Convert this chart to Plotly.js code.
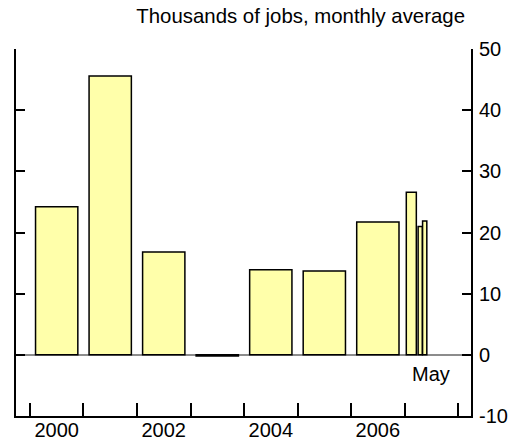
<!DOCTYPE html>
<html>
<head>
<meta charset="utf-8">
<script src="https://cdn.plot.ly/plotly-3.0.1.min.js"></script>
<style>html,body{margin:0;padding:0;background:#fff;}#chart{width:521px;height:444px;}</style>
</head>
<body>
<div id="chart"></div>
<script>
// Annual averages (thousands of jobs, monthly average)
const years = [2000, 2001, 2002, 2003, 2004, 2005, 2006];
const annualAvg = [24.2, 45.6, 16.8, -0.2, 13.9, 13.7, 21.7];
// Most recent periods of 2007: Q1 average, then April and May
const recentYear = 2007;
const recentLabels = ['Q1', 'Apr', 'May'];
const recentStartMonth = [0, 3, 4];
const recentMonthCount = [3, 1, 1];
const recentAvg = [26.6, 21.0, 21.9];
// Axis labels
const yearTickLabels = ['2000', '2002', '2004', '2006'];
const yTickValues = [-10, 0, 10, 20, 30, 40, 50];
const yTickLabels = ['-10', '0', '10', '20', '30', '40', '50'];
const lastMonthLabel = 'May';
const titleText = 'Thousands of jobs, monthly average';

const FONT = 'Liberation Sans, Arial, Helvetica, sans-serif';
const barFill = '#ffffaa';

const annualTrace = {
  type: 'bar',
  x: years.map(y => y + 0.5),
  y: annualAvg,
  width: years.map(() => 0.79),
  marker: {color: barFill, line: {color: '#000', width: 1.5}},
  hoverinfo: 'skip',
  showlegend: false
};
const recentTrace = {
  type: 'bar',
  x: recentStartMonth.map((s, i) => recentYear + (s + recentMonthCount[i] / 2) / 12),
  y: recentAvg,
  width: recentMonthCount.map(n => n / 12 * (n > 1 ? 0.75 : 0.95)),
  text: recentLabels,
  textposition: 'none',
  marker: {color: barFill, line: {color: '#000', width: 1.5}},
  hoverinfo: 'skip',
  showlegend: false
};

const xRange = [1999.74, 2008.24];
const boundaryTicks = [];
for (let y = 2000; y <= 2008; y++) boundaryTicks.push(y);

const layout = {
  width: 521, height: 444,
  margin: {l: 16, r: 50, t: 49, b: 28, pad: 0},
  paper_bgcolor: '#fff', plot_bgcolor: '#fff',
  font: {family: FONT, size: 20, color: '#000'},
  bargap: 0,
  barmode: 'overlay',
  title: {
    text: titleText,
    font: {family: FONT, size: 20.4, color: '#000'},
    xref: 'container', x: 465 / 521, xanchor: 'right',
    yref: 'container', y: 1 - 16 / 444, yanchor: 'middle'
  },
  xaxis: {
    range: xRange, tickmode: 'array', tickvals: boundaryTicks,
    ticks: 'inside', ticklen: 13, tickwidth: 2, tickcolor: '#000',
    showticklabels: false, showline: true, linecolor: '#000', linewidth: 2,
    showgrid: false, zeroline: false, fixedrange: true
  },
  xaxis2: {
    overlaying: 'x', anchor: 'y', side: 'bottom', range: xRange,
    tickmode: 'array', tickvals: yearTickLabels.map(t => +t + 0.5), ticktext: yearTickLabels,
    ticks: '', showline: false, showgrid: false, zeroline: false,
    tickfont: {family: FONT, size: 20, color: '#000'}, ticklabelstandoff: 0
  },
  yaxis: {
    side: 'right', range: [-10, 50], tickmode: 'array', tickvals: yTickValues, ticktext: yTickLabels,
    ticks: 'inside', ticklen: 9, tickwidth: 2, tickcolor: '#000',
    showline: true, linecolor: '#000', linewidth: 2,
    showgrid: false, zeroline: true, zerolinecolor: '#8c8c8c', zerolinewidth: 1.5,
    tickfont: {family: FONT, size: 20, color: '#000'}, ticklabelstandoff: 2
  },
  yaxis2: {
    overlaying: 'y', anchor: 'x', side: 'left', range: [-10, 50],
    tickmode: 'array', tickvals: yTickValues,
    ticks: 'inside', ticklen: 9, tickwidth: 2, tickcolor: '#000',
    showticklabels: false, showline: true, linecolor: '#000', linewidth: 2,
    showgrid: false, zeroline: false
  },
  annotations: [{
    text: lastMonthLabel, x: 2007.5, y: -3.1, xref: 'x', yref: 'y',
    showarrow: false, xanchor: 'center', yanchor: 'middle',
    font: {family: FONT, size: 20, color: '#000'}
  }]
};

// invisible helper traces so the secondary axes are drawn
const helperX = {type: 'scatter', x: [2000.5], y: [0], xaxis: 'x2', yaxis: 'y', mode: 'markers', marker: {opacity: 0}, hoverinfo: 'skip', showlegend: false};
const helperY = {type: 'scatter', x: [2000.5], y: [0], xaxis: 'x', yaxis: 'y2', mode: 'markers', marker: {opacity: 0}, hoverinfo: 'skip', showlegend: false};

Plotly.newPlot('chart', [annualTrace, recentTrace, helperX, helperY], layout, {displayModeBar: false, staticPlot: true});
</script>
</body>
</html>
